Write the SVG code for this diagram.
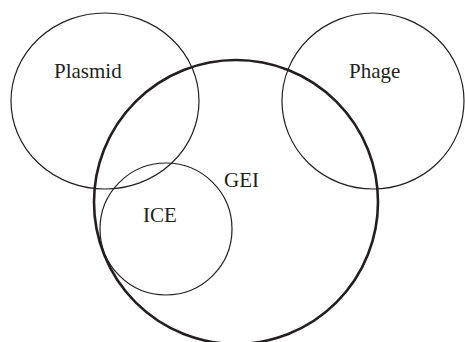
<svg xmlns="http://www.w3.org/2000/svg" width="465" height="342" viewBox="0 0 465 342">
<style>
.thin{fill:none;stroke:#231f20;stroke-width:1.2}
.thick{fill:none;stroke:#231f20;stroke-width:2.6}
text{font-family:"Liberation Serif","Times New Roman",serif;font-size:21px;fill:#231f20}
</style>
<rect width="465" height="342" fill="#fff"/>
<g id="plasmid"><ellipse class="thin" cx="105" cy="101" rx="94" ry="88"/><text x="54" y="78">Plasmid</text></g>
<g id="phage"><ellipse class="thin" cx="373" cy="101" rx="91" ry="88"/><text x="349" y="78">Phage</text></g>
<g id="gei"><circle class="thick" cx="236" cy="202" r="142"/><text x="224" y="187">GEI</text></g>
<g id="ice"><circle class="thin" cx="166" cy="229" r="66"/><text x="143" y="222">ICE</text></g>
<g id="connectors"></g>
</svg>
